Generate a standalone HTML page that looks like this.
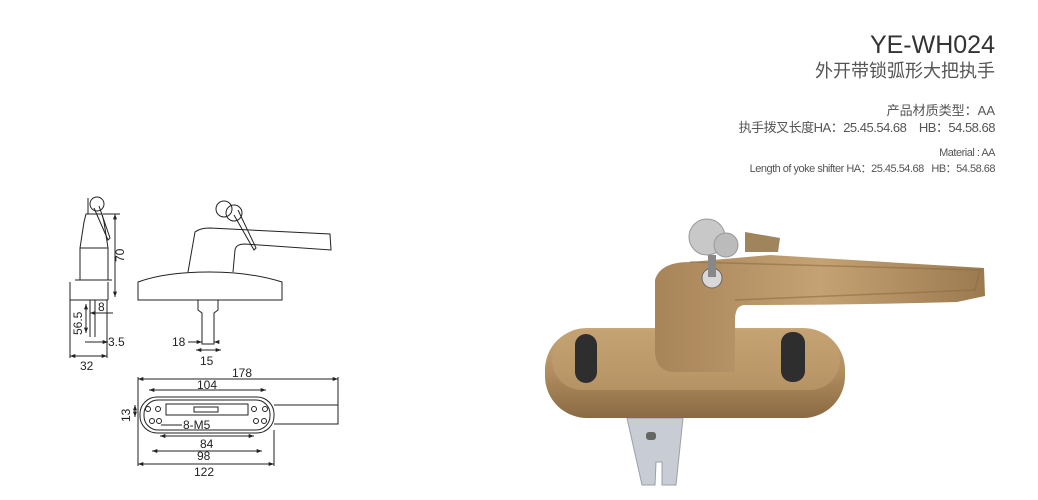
<!DOCTYPE html>
<html><head><meta charset="utf-8"><style>
html,body{margin:0;padding:0;background:#fff;}
body{width:1038px;height:500px;overflow:hidden;position:relative;font-family:"Liberation Sans","Noto Sans CJK SC",sans-serif;}
.t{position:absolute;right:43px;white-space:nowrap;color:#555;line-height:1;}
</style></head><body>
<div class="t" style="top:33px;font-size:25px;color:#333;">YE-WH024</div>
<div class="t" style="top:62px;font-size:18px;color:#555;">外开带锁弧形大把执手</div>
<div class="t" style="top:104px;font-size:13px;">产品材质类型：AA</div>
<div class="t" style="top:121px;font-size:13px;letter-spacing:-0.5px;">执手拨叉长度HA：25.45.54.68&nbsp;&nbsp;&nbsp;&nbsp;HB：54.58.68</div>
<div class="t" style="top:148px;font-size:11px;letter-spacing:-0.5px;">Material : AA</div>
<div class="t" style="top:164px;font-size:11px;letter-spacing:-0.5px;">Length of yoke shifter HA：25.45.54.68&nbsp;&nbsp;&nbsp;HB：54.58.68</div>

<svg width="1038" height="500" style="position:absolute;left:0;top:0" xmlns="http://www.w3.org/2000/svg">
<defs>
<marker id="a" viewBox="0 0 8 6" refX="8" refY="3" markerWidth="6" markerHeight="4" orient="auto-start-reverse"><path d="M0,0L8,3L0,6z" fill="#222"/></marker>
<linearGradient id="g" x1="0" y1="0" x2="0" y2="1"><stop offset="0" stop-color="#c9a779"/><stop offset="0.5" stop-color="#b08c5e"/><stop offset="1" stop-color="#8a6a43"/></linearGradient>
<linearGradient id="g2" x1="0" y1="0" x2="1" y2="0"><stop offset="0" stop-color="#a88459"/><stop offset="0.5" stop-color="#c4a273"/><stop offset="1" stop-color="#9c7a50"/></linearGradient>
</defs>
<g fill="none" stroke="#222" stroke-width="1" font-family="Liberation Sans" font-size="12">
<path d="M80,280 L80,248 L84,222 L86,214 L102,214 L104,222 L108,248 L108,280 Z" fill="#fff"/>
<line x1="80" y1="248" x2="108" y2="248"/>
<line x1="75" y1="280" x2="112" y2="280"/>
<line x1="70" y1="282" x2="70" y2="300"/><line x1="108" y1="282" x2="108" y2="300"/>
<path d="M70,300 L108,300"/>
<line x1="90" y1="300" x2="90" y2="337"/><line x1="95" y1="300" x2="95" y2="337"/>
<circle cx="97" cy="204" r="7"/><path d="M94,208 L108,240 L110,238 L99,206"/>
<line x1="88" y1="198" x2="88" y2="214"/>
<line x1="103" y1="214" x2="120" y2="214"/><line x1="115" y1="214" x2="115" y2="297" marker-start="url(#a)" marker-end="url(#a)"/>
<text x="124" y="262" fill="#222" stroke="none" transform="rotate(-90 124 262)">70</text>
<line x1="86" y1="304" x2="86" y2="333" marker-start="url(#a)" marker-end="url(#a)"/>
<text x="82" y="335" fill="#222" stroke="none" transform="rotate(-90 82 335)">56.5</text>
<line x1="90" y1="313" x2="113" y2="313" marker-start="url(#a)"/>
<text x="98" y="311" fill="#222" stroke="none">8</text>
<line x1="85" y1="342" x2="108" y2="342" marker-end="url(#a)"/>
<text x="108" y="346" fill="#222" stroke="none">3.5</text>
<line x1="70" y1="300" x2="70" y2="358"/><line x1="107" y1="300" x2="107" y2="358"/>
<line x1="70" y1="356" x2="107" y2="356" marker-start="url(#a)" marker-end="url(#a)"/>
<text x="80" y="370" fill="#222" stroke="none">32</text>
<path d="M138,282 L138,300 L282,300 L282,282 Q250,272 210,272 Q165,272 138,282 Z"/>
<path d="M188,272 L195,232 Q200,228 210,228 L330,234 L331,250 L245,244 Q236,244 235,250 L233,272"/>
<circle cx="224" cy="209" r="8"/><circle cx="234" cy="213" r="8"/><path d="M234,215 L254,250 L256,248 L238,210"/>
<path d="M198,300 L198,310 L202,313 L202,344 L214,344 L214,313 L218,310 L218,300"/>
<line x1="188" y1="342" x2="202" y2="342" marker-end="url(#a)"/><line x1="214" y1="342" x2="218" y2="342" marker-start="url(#a)"/>
<text x="172" y="346" fill="#222" stroke="none">18</text>
<line x1="196" y1="350" x2="221" y2="350" marker-start="url(#a)" marker-end="url(#a)"/>
<text x="200" y="365" fill="#222" stroke="none">15</text>
<rect x="140" y="397" width="134" height="36" rx="17"/>
<rect x="144" y="400" width="126" height="30" rx="14"/>
<path d="M274,405 L338,405 L338,424 L274,424"/>
<rect x="166" y="404" width="82" height="11"/>
<rect x="194" y="407" width="24" height="5"/>
<circle cx="148" cy="409" r="2.5"/><circle cx="158" cy="409" r="2.5"/><circle cx="254" cy="409" r="2.5"/><circle cx="265" cy="409" r="2.5"/>
<circle cx="152" cy="421" r="2.5"/><circle cx="159" cy="421" r="2.5"/><circle cx="256" cy="421" r="2.5"/><circle cx="264" cy="421" r="2.5"/>
<line x1="138" y1="377" x2="138" y2="466"/><line x1="338" y1="377" x2="338" y2="405"/>
<line x1="138" y1="379" x2="338" y2="379" marker-start="url(#a)" marker-end="url(#a)"/>
<text x="232" y="377" fill="#222" stroke="none">178</text>
<line x1="149" y1="390" x2="266" y2="390" marker-start="url(#a)" marker-end="url(#a)"/>
<text x="197" y="389" fill="#222" stroke="none">104</text>
<line x1="135" y1="405" x2="135" y2="417" marker-start="url(#a)" marker-end="url(#a)"/>
<text x="130" y="422" fill="#222" stroke="none" transform="rotate(-90 130 422)">13</text>
<line x1="161" y1="425" x2="182" y2="425"/>
<text x="183" y="429" fill="#222" stroke="none">8-M5</text>
<line x1="160" y1="436" x2="254" y2="436" marker-start="url(#a)" marker-end="url(#a)"/>
<text x="200" y="448" fill="#222" stroke="none">84</text>
<line x1="152" y1="451" x2="262" y2="451" marker-start="url(#a)" marker-end="url(#a)"/>
<text x="197" y="460" fill="#222" stroke="none">98</text>
<line x1="274" y1="430" x2="274" y2="466"/>
<line x1="138" y1="464" x2="274" y2="464" marker-start="url(#a)" marker-end="url(#a)"/>
<text x="194" y="476" fill="#222" stroke="none">122</text>
</g>
<path d="M627,418 L683,418 L676,485 L662,485 L662,462 L656,462 L655,485 L642,485 Z" fill="#c8ccd4" stroke="#9aa0a8"/>
<rect x="646" y="432" width="10" height="8" rx="3" fill="#666"/>
<rect x="545" y="328" width="300" height="90" rx="42" fill="url(#g)"/>
<rect x="552" y="330" width="288" height="60" rx="30" fill="#c2a070" opacity="0.6"/>
<rect x="575" y="334" width="22" height="49" rx="11" fill="#2e2e2e"/>
<rect x="781" y="332" width="24" height="50" rx="11" fill="#2e2e2e"/>
<path d="M655,280 Q660,262 690,262 L770,255 L984,268 L985,296 L957,302 Q850,305 745,305 Q735,305 735,320 L735,372 L675,372 Q655,372 655,350 Z" fill="url(#g2)"/>
<path d="M690,262 L980,270 L975,290 L735,300" fill="none" stroke="#8c6c45" stroke-width="1.5" opacity="0.6"/>
<path d="M745,232 L780,238 L778,252 L745,252 Z" fill="#a0845c"/>
<circle cx="707" cy="237" r="18" fill="#c8c8c8" stroke="#999"/>
<circle cx="726" cy="245" r="12" fill="#bbb" stroke="#999"/>
<circle cx="712" cy="278" r="10" fill="#d8d8d8" stroke="#666"/>
<rect x="708" y="255" width="8" height="22" fill="#888"/>
</svg>
</body></html>
